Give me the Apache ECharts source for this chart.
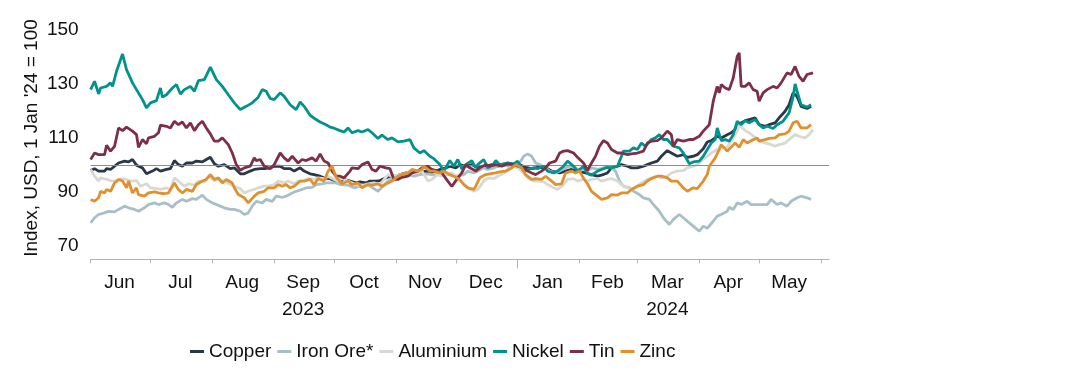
<!DOCTYPE html>
<html>
<head>
<meta charset="utf-8">
<script src="https://cdn.jsdelivr.net/npm/echarts@6/dist/echarts.min.js"></script>
<style>
html,body{margin:0;padding:0;background:#fff;}
#chart{width:1088px;height:380px;}
</style>
</head>
<body>
<div id="chart"></div>
<script>
// x values: days after 1 Jun 2023
const monthStartDays = [0,30,61,92,122,153,183,214,245,274,305,335,366];
const yearStartDays = [214];
const monthLabelDays = [14.5,45,76,106.5,137,167.5,198,229,259,289,319.5,350];
const monthLabels = ['Jun','Jul','Aug','Sep\n2023','Oct','Nov','Dec','Jan','Feb','Mar\n2024','Apr','May'];
const yTickLabels = [70,90,110,130,150];
const seriesNames = ['Copper','Iron Ore*','Aluminium','Nickel','Tin','Zinc'];

const copper = [[0,97.9],[2,98.6],[4,97.7],[5,98.3],[7,97.7],[8,98.6],[10,98.3],[12,99.5],[14,100.7],[17,101.4],[19,101.1],[21,102],[23,99.9],[26,98.9],[28,96.7],[31,97.7],[33,98.6],[35,97.7],[38,98.3],[40,98.6],[42,101.6],[44,100.1],[46,99.5],[48,100.7],[51,100.7],[53,101.4],[56,101.1],[58,102],[60,102.8],[62,100.4],[64,99.5],[67,100.1],[70,98.6],[72,98.9],[75,96.7],[77,96.7],[80,97.7],[82,98.3],[85,98.6],[87,98.6],[90,98.9],[92,99.5],[95,99.5],[97,98.6],[100,98.6],[102,97.7],[105,98.9],[107,97.7],[110,96.7],[112,96.4],[115,95.8],[117,95.2],[120,94.9],[122,94.2],[125,94],[127,94.6],[130,94],[133,93.3],[135,93.7],[138,93.3],[140,94],[143,94],[145,94.2],[148,95.2],[150,95.8],[153,95.8],[155,96.4],[158,97],[160,97],[163,97.7],[165,97],[168,97.7],[170,97],[173,97.7],[175,98.3],[178,98.9],[180,99.5],[183,98.9],[185,100.1],[188,99.5],[191,100.1],[194,98.9],[198,99.5],[201,100.1],[204,99.5],[208,100.1],[211,100.1],[214,100.4],[218,99.1],[221,98.6],[224,99.1],[228,98.9],[231,97.7],[235,97],[238,97.7],[241,98.3],[244,97.7],[248,97],[251,96.4],[254,95.8],[256,96.2],[259,97],[261,98.9],[264,99.5],[266,100.1],[269,99.5],[271,98.9],[274,98.9],[277,99.5],[279,100.1],[281,100.7],[284,101.4],[286,103.2],[289,105.3],[291,104.4],[294,103.2],[297,103.8],[299,102.8],[302,103.2],[304,103.8],[307,106],[309,108.5],[311,109],[314,110.6],[316,110],[319,111.2],[321,111.9],[324,113.7],[325,115.2],[328,116.4],[330,116.8],[333,117.4],[335,114.9],[338,114.3],[340,114.9],[343,115.6],[345,117.4],[348,119.9],[350,122.3],[352,126.7],[354,125.4],[356,121.7],[359,120.9],[361,121.7]];

const ironOre = [[0,78.5],[2,80.4],[4,81.6],[7,82.2],[9,82.8],[12,82.6],[14,83.5],[17,84.7],[19,84.1],[22,83.5],[24,82.8],[27,84.1],[29,85.3],[32,85.9],[34,85.3],[37,85.9],[39,85.3],[41,84.3],[43,85.9],[46,87.2],[48,86.5],[51,87.5],[53,87.2],[56,88.8],[58,87.2],[61,85.9],[62,85.3],[65,84.7],[67,84.1],[70,83.5],[72,83.5],[75,82.8],[77,81.6],[79,82.2],[81,84.7],[83,86.5],[86,85.9],[88,87.2],[91,86.5],[93,88.4],[96,88],[98,88.4],[101,89.6],[103,90.2],[106,90.9],[108,91.5],[111,91.7],[113,92.7],[116,93],[118,93.3],[121,93.3],[123,93.3],[125,92.7],[129,92.5],[132,91.5],[135,92.1],[139,92.7],[141,91.7],[144,90.2],[146,91.7],[149,94],[152,95.4],[155,95.8],[159,96.4],[162,95.8],[165,96.4],[169,96.7],[172,96.2],[175,97],[179,96.4],[184,95.8],[187,96.4],[189,97.7],[192,97],[194,97.7],[197,98.9],[199,98.3],[202,98.9],[204,99.5],[207,100.1],[209,99.5],[212,100.4],[215,100.7],[217,103.2],[219,104.1],[221,103.2],[223,100.7],[225,100.1],[228,98.9],[230,97.7],[233,97],[235,97.7],[238,98.9],[240,99.5],[243,98.9],[245,97.7],[248,98.9],[249,97.7],[251,98.9],[254,98.3],[256,98.6],[259,99.5],[261,98.9],[263,97.7],[265,94],[267,92.1],[270,91.5],[272,90.2],[275,89],[277,87.8],[280,87.2],[282,85.3],[285,82.8],[287,80.4],[290,77.9],[292,79.8],[295,81.6],[297,80.4],[300,78.5],[302,77.3],[305,75.4],[307,77.3],[309,76.5],[310,76],[312,79.1],[314,81],[316,81.6],[319,82.8],[320,84.3],[322,83.5],[324,85.9],[326,85.3],[329,86.5],[331,85.3],[334,85.3],[336,85.3],[339,85.3],[341,87.2],[344,85.3],[346,85.9],[349,84.7],[351,86.5],[354,87.8],[356,88.4],[359,87.8],[361,87.2]];

const aluminium = [[0,98.3],[2,95.8],[4,94],[5,95.2],[8,94.6],[10,94.2],[13,94],[15,94.9],[18,94.6],[20,94],[23,94.2],[25,92.1],[28,93],[30,91.5],[33,91.2],[35,90.9],[38,91.5],[40,90.9],[42,95.2],[44,94],[47,92.1],[49,93],[52,92.5],[54,94],[57,93.7],[59,95.8],[62,94.2],[64,94.6],[67,94],[70,92.7],[72,92.1],[75,91.2],[77,89.6],[80,90.5],[82,90.9],[84,91.5],[87,92.1],[89,92.1],[92,92.7],[94,94],[97,93.3],[99,94],[102,93],[104,94],[107,94.2],[109,94.9],[112,94.6],[114,95.2],[117,94.9],[119,95.8],[122,94.6],[124,94],[126,94.9],[129,94],[132,93],[135,92.1],[139,93],[142,93.3],[145,92.7],[149,96.4],[151,95.8],[154,96.2],[157,96.7],[161,97.7],[164,97],[166,97.7],[169,94],[171,94.6],[174,96.4],[176,95.8],[179,96.7],[181,97],[184,95],[187,93],[189,91.5],[192,90.2],[194,90.9],[197,94],[199,95.2],[202,94.9],[204,95.8],[207,97],[209,97.7],[212,99.5],[214,98.9],[217,97],[219,95.2],[222,94],[224,94],[227,93.7],[229,92.7],[232,91.5],[234,90.9],[237,92.7],[239,94.6],[242,94.9],[244,94],[247,94.6],[249,94],[251,94.6],[254,94.9],[256,94],[259,94.6],[261,94.9],[264,94],[266,92.7],[269,91.5],[271,90.9],[274,92.1],[276,93.3],[279,94.6],[281,95.2],[284,95.8],[286,95.2],[289,95.8],[291,97],[294,97.7],[297,97.9],[299,98.9],[302,99.5],[304,100.1],[307,102],[309,103.2],[311,104.4],[314,105.7],[316,106.3],[319,106.5],[321,108.8],[324,112.5],[325,114.9],[328,112.7],[330,111.9],[333,110.2],[335,108.8],[338,108.1],[340,107.8],[343,106.9],[345,107.5],[348,108.1],[350,109.4],[353,111.2],[355,110.6],[358,110],[360,111.2],[362,113.1]];

const nickel = [[0,127.9],[2,131],[4,126.3],[5,128.5],[8,129.1],[10,130.4],[11,129.1],[13,134.7],[16,141.1],[18,135.3],[21,130.4],[23,127.9],[26,124.2],[28,121.1],[30,123],[33,123.8],[35,128.5],[36,125.1],[38,126],[41,128.5],[43,129.8],[45,126.3],[47,127.9],[50,129.1],[52,127.3],[54,131.2],[57,131.6],[58,132.2],[60,136.2],[63,131.6],[66,129.1],[67,129.8],[69,126],[72,123],[75,120.5],[78,121.7],[81,123],[84,125.1],[86,127.9],[88,127.3],[90,124.6],[92,124.2],[95,126.7],[97,125.4],[100,122.3],[103,120.5],[105,123.3],[107,121.7],[110,118.4],[113,116.8],[115,115.9],[118,114.9],[120,114],[122,113.6],[125,112.7],[127,112.2],[129,113.7],[131,111.9],[134,112.7],[136,112.2],[139,113.1],[141,111.9],[144,109.8],[146,111],[149,109.4],[151,110],[154,108.5],[157,108.8],[160,109.4],[162,106.3],[165,104.4],[167,105.3],[170,103.2],[172,102.3],[175,100.1],[177,97.7],[180,101.6],[182,99.5],[184,102],[186,98.5],[188,100.1],[191,101.6],[193,98.9],[194,100.1],[197,102],[199,98.9],[202,100.4],[203,101.6],[205,100.1],[209,100.7],[212,100.4],[214,101.4],[217,97.7],[219,98.3],[222,98.9],[224,98.6],[227,99.5],[229,97.7],[232,97],[234,97.7],[237,99.5],[239,101.4],[242,99.5],[244,97.7],[247,99.5],[249,96.7],[251,96.2],[254,97.7],[256,98.3],[259,99.1],[261,98.9],[264,99.5],[266,103.2],[267,105.1],[270,105.1],[272,106.3],[274,105.7],[276,108.1],[278,106.9],[281,109.4],[283,110],[285,111.2],[287,109.4],[289,109.4],[292,106.9],[295,106.3],[297,104.4],[300,100.4],[302,101.1],[305,101.4],[307,103.2],[309,105.7],[311,108.1],[313,109.4],[314,113.7],[316,109],[318,109.4],[320,108.8],[322,111.2],[324,116.2],[326,114.9],[328,116.4],[330,115.6],[333,116.8],[335,114.9],[337,113.7],[339,114.3],[342,113.5],[344,114.9],[347,116.2],[350,119.3],[352,125.1],[353,130],[354,127.3],[356,122.3],[359,121.4],[361,122.3]];

const tin = [[0,102],[2,104.4],[4,103.8],[5,104.4],[7,103.8],[8,107.3],[10,105.1],[12,106.9],[14,113.7],[16,112.7],[18,114],[21,112.5],[23,111.2],[24,106.5],[26,109.4],[28,107.8],[29,110],[32,110.6],[34,111.9],[35,114.7],[38,114.3],[40,113.7],[42,116.2],[44,114.9],[46,115.9],[48,113.7],[50,115.6],[52,112.7],[54,114.9],[56,116.2],[58,113.7],[60,111.5],[62,108.8],[64,108.8],[66,110],[69,107.5],[71,104.4],[73,100.1],[75,98],[77,98.9],[80,99.5],[82,102.6],[83,101.6],[85,102],[87,99.5],[90,98.6],[92,100.1],[95,104.4],[97,102.6],[99,101.4],[101,103.2],[104,100.7],[106,102],[108,101.6],[111,102.6],[113,101.4],[115,104.1],[117,101.4],[119,100.7],[121,97.7],[123,95.8],[125,95.8],[127,95.2],[130,97.7],[131,98.9],[134,98.6],[136,100.1],[139,101.1],[141,98.3],[143,97.7],[145,99.5],[148,98.9],[150,98.6],[152,94.6],[154,94.6],[156,95.4],[159,95.8],[161,97],[164,97.7],[166,98.9],[169,99.5],[171,98.3],[174,97.7],[176,97],[179,94],[181,92],[184,95.2],[186,97],[188,100.1],[190,98.9],[193,97.7],[195,98.9],[198,100.1],[200,99.5],[203,100.1],[206,99.5],[209,100.4],[212,100.1],[214,99.5],[217,98.9],[219,97.7],[221,97],[223,96.4],[226,97.7],[228,98.9],[230,100.7],[233,101.4],[235,104.4],[237,105.1],[239,105.3],[242,104.4],[244,102.8],[247,100.7],[249,98],[251,100.7],[253,103.2],[255,106.9],[257,109],[259,108.1],[261,105.7],[264,104.4],[266,104.4],[269,103.8],[271,104.1],[274,104.4],[277,105.1],[279,108.1],[281,108.8],[284,109],[286,110],[289,112.5],[291,111.2],[292,106.9],[294,109.4],[297,108.8],[300,109.4],[302,109.4],[305,110.6],[307,112.5],[310,114.9],[312,123.6],[314,129.1],[315,126.7],[316,129.8],[318,128.5],[320,127.9],[322,132.2],[324,140.2],[325,141.5],[326,129.1],[328,129.1],[330,130.4],[332,127.9],[334,127.3],[335,123.6],[337,126.7],[339,127.9],[342,129.1],[344,128.5],[346,130.4],[349,134.1],[351,133.5],[353,136.5],[355,132.8],[357,131],[359,133.5],[362,134.1]];

const zinc = [[0,87.2],[2,86.5],[4,87.8],[5,90.2],[7,89.6],[8,90.9],[10,90.2],[12,93.3],[14,94.6],[16,94],[18,91.5],[19,94],[21,89.6],[23,91.5],[24,89],[27,88.4],[29,89.6],[32,90],[34,89.6],[37,89.3],[39,89.6],[42,93.3],[44,90.9],[46,89.6],[48,90.9],[51,90.2],[53,92.7],[56,94],[58,94.6],[60,96.4],[62,94.6],[64,95.2],[66,93.3],[68,94.6],[71,93.3],[72,91.5],[74,89],[77,87.8],[79,85.9],[80,85.9],[82,88.4],[84,89.6],[87,90.2],[89,91.5],[92,91.5],[94,92.7],[96,92.1],[98,92.7],[100,91.5],[102,92.1],[105,94],[107,94],[110,94.6],[112,92.7],[114,94.9],[117,94],[119,97.7],[121,99.5],[123,95.5],[126,93],[129,94],[131,92.7],[134,93.3],[136,91.5],[139,92.7],[141,92.5],[144,93],[146,92.1],[149,93.3],[151,94],[154,95.8],[156,96.4],[159,97],[161,98.3],[164,97.7],[166,98.3],[167,99.5],[170,97.7],[172,97.7],[175,97],[177,97.7],[180,96.4],[182,95.8],[185,94.5],[187,92.7],[189,91.5],[192,90.9],[193,92.1],[195,95.2],[198,96.4],[200,96.7],[203,97],[205,97.4],[208,97.7],[211,98.9],[213,100.1],[216,98.9],[218,96.4],[221,94.6],[223,94.9],[226,94.6],[228,95.8],[231,94],[233,92.7],[236,93],[238,97],[241,97.7],[243,97],[245,97.7],[247,95],[249,93],[251,90.2],[254,88.4],[256,87.2],[259,87.8],[261,89],[264,88.8],[266,89.6],[269,89.6],[271,90.9],[274,92.1],[277,92.7],[279,94],[281,94.9],[284,95.8],[286,95.8],[289,95.2],[291,94],[294,94],[297,91.5],[299,90.2],[302,91.5],[304,91.2],[307,94],[309,96.4],[310,99.5],[313,102.6],[315,105.7],[316,107.5],[319,105.1],[320,105.7],[323,108.1],[325,106.5],[327,109.4],[329,108.1],[331,109],[334,110],[335,108.8],[338,109.4],[340,109.8],[343,110],[345,111.2],[348,111.5],[350,112.5],[352,115.6],[354,116.2],[356,113.7],[359,113.7],[361,114.9]];

const seriesData = [copper, ironOre, aluminium, nickel, tin, zinc];
const colors = ['#2b3648','#a8bfc7','#d9d9d3','#00928d','#7e2f48','#e0902c'];

const FONT = 'Liberation Sans, Arial, sans-serif';
const chart = echarts.init(document.getElementById('chart'), null, {renderer:'canvas'});

const labelMap = {};
monthLabelDays.forEach((d,i)=>{ labelMap[d] = monthLabels[i]; });

const series = [{
  name: 'ref', type: 'line', data: [], silent: true, z: 1,
  markLine: {
    silent: true, symbol: ['none','none'], animation: false,
    label: {show: false},
    lineStyle: {color: '#8c8c8c', width: 1, type: 'solid'},
    data: [{yAxis: 100}]
  }
}];
seriesNames.forEach((n,i)=>{
  series.push({
    name: n, type: 'line', data: seriesData[i], xAxisIndex: 0,
    showSymbol: false, symbol: 'none', smooth: false, z: 2 + i,
    lineStyle: {color: colors[i], width: 2.8},
    itemStyle: {color: colors[i]}
  });
});

chart.setOption({
  animation: false,
  backgroundColor: '#ffffff',
  textStyle: {fontFamily: FONT},
  grid: {left: 90.6, top: 30, width: 738.4, height: 229.3, containLabel: false},
  xAxis: [{
    type: 'value', min: 0, max: 370,
    axisLine: {show: true, lineStyle: {color: '#b3b3b3', width: 1}},
    axisTick: {show: true, customValues: monthStartDays, length: 4, lineStyle: {color: '#b3b3b3'}},
    axisLabel: {show: true, customValues: monthLabelDays, formatter: v => labelMap[v] || '',
      fontSize: 19, color: '#111', fontFamily: FONT, margin: 10, lineHeight: 27},
    splitLine: {show: false}
  },{
    type: 'value', min: 0, max: 370, position: 'bottom',
    axisLine: {show: false},
    axisTick: {show: true, customValues: yearStartDays, length: 9, lineStyle: {color: '#b3b3b3'}},
    axisLabel: {show: false},
    splitLine: {show: false}
  }],
  yAxis: {
    type: 'value', min: 65, max: 150,
    axisLine: {show: false}, axisTick: {show: false},
    axisLabel: {customValues: yTickLabels, fontSize: 19, color: '#111', fontFamily: FONT, margin: 12},
    splitLine: {show: false}
  },
  legend: {
    data: seriesNames, left: 190, top: 342, icon: 'rect', itemWidth: 14, itemHeight: 3,
    itemGap: 6, padding: 0,
    textStyle: {fontSize: 19, color: '#111', fontFamily: FONT}
  },
  graphic: [{
    type: 'text', x: 32, y: 138, rotation: Math.PI/2,
    style: {text: "Index, USD, 1 Jan '24 = 100", font: '19px ' + FONT, fill: '#111',
      textAlign: 'center', textVerticalAlign: 'middle'}
  }],
  series: series
});
</script>
</body>
</html>
